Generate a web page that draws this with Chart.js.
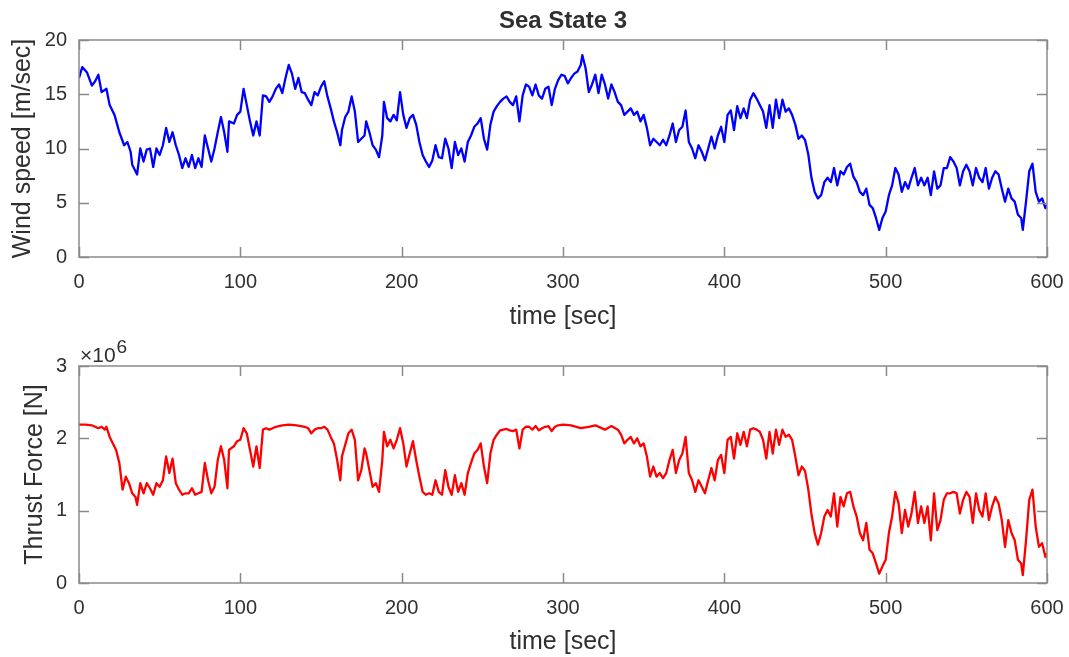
<!DOCTYPE html>
<html>
<head>
<meta charset="utf-8">
<script src="https://cdn.jsdelivr.net/npm/chart.js@4.4.1/dist/chart.umd.min.js"></script>
<style>
  html, body { margin: 0; padding: 0; background: #ffffff; }
  #wrap { position: relative; width: 1069px; height: 657px; background: #fff; }
  #c1 { position: absolute; left: 0; top: 0; }
  #c2 { position: absolute; left: 0; top: 332px; }
</style>
</head>
<body>
<div id="wrap">
  <canvas id="c1" width="1069" height="332"></canvas>
  <canvas id="c2" width="1069" height="325"></canvas>
</div>
<script>
// ---------------- Data ----------------
const chartTitle = 'Sea State 3';
const xAxisLabel = 'time [sec]';
const windAxisLabel = 'Wind speed [m/sec]';
const thrustAxisLabel = 'Thrust Force [N]';
const thrustExponent = '6';

const windTime = [0,2,5,8,10,12,14,17,19,22,25,28,30,32,33,35,36,38,40,42,44,46,48,50,52,54,56,58,60,62,64,66,68,70,72,74,76,78,80,82,84,86,88,90,92,93,96,98,100,102,104,106,108,110,112,114,116,118,120,122,124,126,128,130,132,134,136,138,140,142,144,146,148,150,152,154,156,158,160,162,163,165,167,169,171,173,175,177,178,180,182,184,186,188,189,191,193,195,197,199,201,203,205,207,209,211,213,215,217,219,221,223,225,227,229,231,233,235,237,239,241,243,245,247,249,251,253,255,257,259,261,263,265,267,269,271,273,275,277,279,281,283,285,287,289,291,293,295,297,299,301,303,305,307,309,311,312,314,316,318,320,322,324,326,328,330,332,334,336,338,340,342,344,346,348,350,352,354,356,358,360,362,364,366,368,370,372,374,376,378,380,382,384,386,388,390,392,394,396,398,400,402,404,406,408,410,412,414,416,418,420,422,424,426,428,430,432,434,436,438,440,442,444,446,448,450,452,454,456,458,460,462,464,466,468,470,472,474,476,478,480,482,484,486,488,490,492,494,496,498,500,502,504,506,508,510,512,514,516,518,520,522,524,526,528,530,532,534,536,538,540,542,544,546,548,550,552,554,556,558,560,562,564,566,568,570,572,574,576,578,580,582,584,585,587,589,591,593,595,597,599,600];
const windSpeed = [16.5,17.5,17.0,15.8,16.2,16.8,15.2,15.5,14.0,13.1,11.5,10.3,10.6,9.7,8.5,7.9,7.6,10.0,8.8,9.9,10.0,8.3,10.0,9.4,10.3,11.9,10.6,11.5,10.3,9.4,8.2,9.1,8.3,9.4,8.2,9.1,8.3,11.2,10.0,8.8,10.0,11.5,12.9,11.5,9.7,12.5,12.3,13.1,13.4,15.5,14.0,12.5,11.2,12.5,11.2,14.9,14.8,14.3,14.8,15.5,15.9,15.1,16.5,17.7,16.9,15.5,16.5,15.2,15.1,14.5,14.0,15.2,14.9,15.7,16.2,14.8,13.7,12.5,11.5,10.3,11.7,12.9,13.4,14.8,13.4,10.6,10.9,11.2,12.5,11.5,10.3,9.9,9.2,11.2,14.3,12.8,12.5,13.1,12.6,15.2,13.1,11.9,12.8,13.1,12.2,10.6,9.4,8.8,8.3,8.9,10.3,9.2,9.1,10.9,10.0,8.2,10.6,9.4,10.0,8.8,10.6,11.2,12.0,12.3,12.8,10.9,9.9,12.2,13.4,13.9,14.3,14.6,14.8,14.3,14.0,14.8,12.5,14.9,15.9,15.7,14.9,15.9,14.9,14.6,15.5,15.7,14.0,15.5,16.3,16.8,16.7,16.0,16.5,16.9,17.1,17.7,18.6,17.4,15.2,15.9,16.8,15.1,16.8,15.9,14.6,15.9,15.2,14.3,14.0,13.1,13.4,13.7,13.1,13.4,12.5,13.1,11.9,10.3,10.9,10.6,10.3,10.8,10.3,11.2,12.3,10.6,11.7,12.0,13.5,10.6,10.0,9.1,10.3,9.7,8.9,10.0,11.1,10.0,11.2,12.0,10.6,13.1,13.5,11.7,13.9,12.8,13.7,12.8,14.5,15.1,14.6,14.0,13.4,11.9,14.0,11.9,14.5,12.8,14.5,13.4,13.7,13.1,12.2,10.9,11.2,10.8,9.5,7.3,6.0,5.4,5.7,6.9,7.3,6.9,8.2,6.6,7.9,7.6,8.3,8.6,7.4,6.9,6.0,5.7,6.3,4.8,4.5,3.6,2.5,3.6,4.2,5.7,6.6,8.2,7.6,6.0,6.9,6.3,7.3,8.2,6.6,7.3,6.6,7.3,5.7,7.9,6.3,6.6,8.2,8.2,9.2,8.8,8.2,6.6,7.9,8.5,7.9,6.6,8.2,7.3,6.9,8.2,6.3,7.3,7.9,7.6,6.3,5.1,6.3,5.4,5.1,3.9,3.6,2.5,5.1,7.9,8.6,6.0,5.1,5.4,4.5,4.8];

const thrustTime = [0,4,8,10,12,14,16,17,19,21,23,25,27,29,31,33,35,36,38,40,42,44,46,48,50,52,54,56,58,60,62,64,66,68,70,72,74,76,78,80,82,84,86,88,90,92,93,96,98,100,102,104,106,108,110,112,114,116,118,120,122,124,126,130,135,140,142,144,146,148,150,152,154,156,158,160,162,163,165,167,169,171,173,175,177,178,180,182,184,186,188,189,191,193,195,197,199,201,203,205,207,209,211,213,215,217,219,221,223,225,227,229,231,233,235,237,239,241,243,245,247,249,251,253,255,257,259,261,263,265,267,269,271,273,275,277,279,281,283,285,287,289,291,293,295,297,300,305,311,316,320,326,330,334,336,338,340,342,344,346,348,350,352,354,356,358,360,362,364,366,368,370,372,374,376,378,380,382,384,386,388,390,392,394,396,398,400,402,404,406,408,410,412,414,416,418,420,422,424,426,428,430,432,434,436,438,440,442,444,446,448,450,452,454,456,458,460,462,464,466,468,470,472,474,476,478,480,482,484,486,488,490,492,494,496,498,500,502,504,506,508,510,512,514,516,518,520,522,524,526,528,530,532,534,536,538,540,542,544,546,548,550,552,554,556,558,560,562,564,566,568,570,572,574,576,578,580,582,584,585,587,589,591,593,595,597,599,600];
// thrust force in units of 10^6 N
const thrustForce = [2.19,2.19,2.18,2.16,2.14,2.16,2.12,2.16,2.02,1.93,1.84,1.66,1.29,1.47,1.38,1.24,1.19,1.08,1.38,1.24,1.38,1.31,1.22,1.38,1.33,1.42,1.75,1.52,1.72,1.38,1.29,1.22,1.24,1.24,1.31,1.22,1.24,1.26,1.66,1.42,1.24,1.33,1.70,1.89,1.70,1.31,1.84,1.89,1.96,1.98,2.14,2.07,1.84,1.61,1.89,1.59,2.12,2.14,2.12,2.14,2.16,2.17,2.18,2.19,2.18,2.16,2.14,2.07,2.12,2.14,2.14,2.16,2.12,2.02,1.93,1.70,1.42,1.75,1.91,2.07,2.12,1.98,1.42,1.56,1.86,1.79,1.56,1.33,1.38,1.26,1.70,2.09,1.89,1.98,1.86,1.98,2.14,1.93,1.61,1.79,1.96,1.70,1.47,1.26,1.22,1.24,1.22,1.42,1.26,1.22,1.56,1.33,1.22,1.49,1.26,1.38,1.22,1.52,1.66,1.79,1.84,1.93,1.61,1.38,1.79,1.98,2.05,2.11,2.12,2.13,2.11,2.10,2.12,1.86,2.12,2.16,2.16,2.12,2.17,2.11,2.14,2.16,2.17,2.10,2.16,2.18,2.19,2.18,2.14,2.16,2.18,2.12,2.17,2.12,2.05,1.93,1.98,2.02,1.93,2.00,1.89,1.93,1.75,1.47,1.61,1.47,1.52,1.45,1.52,1.70,1.84,1.52,1.70,1.79,2.02,1.52,1.42,1.26,1.42,1.33,1.24,1.42,1.59,1.42,1.70,1.77,1.52,1.98,2.02,1.72,2.07,1.91,2.09,1.89,2.12,2.14,2.12,2.09,1.98,1.72,2.09,1.79,2.12,1.91,2.12,2.02,2.05,1.98,1.75,1.49,1.61,1.55,1.30,0.95,0.69,0.53,0.69,0.92,1.01,0.92,1.24,0.78,1.19,1.06,1.24,1.26,1.06,0.92,0.69,0.59,0.83,0.46,0.41,0.27,0.13,0.23,0.32,0.69,0.92,1.26,1.10,0.69,1.01,0.78,0.96,1.26,0.83,1.06,0.83,1.06,0.59,1.24,0.73,0.87,1.15,1.24,1.24,1.26,1.24,0.96,1.15,1.26,1.19,0.83,1.24,1.01,0.92,1.24,0.87,1.06,1.19,1.10,0.87,0.50,0.87,0.69,0.59,0.32,0.27,0.11,0.59,1.15,1.29,0.78,0.50,0.55,0.36,0.41];

// ---------------- Styling ----------------
const FONT = "'Liberation Sans', Arial, Helvetica, sans-serif";
const TEXT = '#303030';
const AXIS = '#8a8a8a';

const boxPlugin = {
  id: 'matlabBox',
  afterDraw(chart, args, opts) {
    const { ctx, chartArea: a, scales } = chart;
    ctx.save();
    ctx.strokeStyle = AXIS;
    ctx.lineWidth = 1.5;
    ctx.strokeRect(a.left, a.top, a.right - a.left, a.bottom - a.top);
    const L = 10;
    ctx.beginPath();
    scales.x.ticks.forEach(t => {
      const px = Math.round(scales.x.getPixelForValue(t.value)) + 0.5;
      ctx.moveTo(px, a.bottom); ctx.lineTo(px, a.bottom - L);
      ctx.moveTo(px, a.top); ctx.lineTo(px, a.top + L);
    });
    scales.y.ticks.forEach(t => {
      const py = Math.round(scales.y.getPixelForValue(t.value)) + 0.5;
      ctx.moveTo(a.left, py); ctx.lineTo(a.left + L, py);
      ctx.moveTo(a.right, py); ctx.lineTo(a.right - L, py);
    });
    ctx.stroke();
    if (opts.exponent) {
      ctx.fillStyle = TEXT;
      ctx.textBaseline = 'alphabetic';
      ctx.textAlign = 'left';
      ctx.font = '21px ' + FONT;
      const base = a.top - 4;
      ctx.fillText('\u00d710', a.left + 1, base);
      const w = ctx.measureText('\u00d710').width;
      ctx.font = '19px ' + FONT;
      ctx.fillText(opts.exponent, a.left + 1 + w + 1, base - 9);
    }
    ctx.restore();
  }
};

function makeChart(canvas, cfg) {
  const pts = cfg.xs.map((x, i) => ({ x: x, y: cfg.ys[i] }));
  return new Chart(canvas, {
    type: 'line',
    data: { datasets: [{ data: pts, borderColor: cfg.color, borderWidth: 2.3, borderJoinStyle: 'round', pointRadius: 0, tension: 0, fill: false }] },
    options: {
      responsive: false,
      animation: false,
      devicePixelRatio: 1,
      layout: { padding: cfg.padding },
      plugins: {
        legend: { display: false },
        tooltip: { enabled: false },
        title: cfg.title ? { display: true, fullSize: false, text: cfg.title, color: TEXT, font: { family: FONT, size: 24, weight: 'bold' }, padding: { top: 7, bottom: 4.2 } } : { display: false },
        matlabBox: { exponent: cfg.exponent || null }
      },
      scales: {
        x: {
          type: 'linear', min: 0, max: 600,
          grid: { display: false, drawTicks: false },
          border: { display: false },
          ticks: { stepSize: 100, color: TEXT, font: { family: FONT, size: 20 }, padding: 13, maxRotation: 0 },
          title: { display: true, text: xAxisLabel, color: TEXT, font: { family: FONT, size: 25 }, padding: { top: cfg.xTitlePad, bottom: 0 } },
          afterFit(s) { s.height = cfg.xHeight; s.paddingLeft = 0; s.paddingRight = 0; }
        },
        y: {
          min: cfg.yMin, max: cfg.yMax,
          grid: { display: false, drawTicks: false },
          border: { display: false },
          ticks: { stepSize: cfg.yStep, color: TEXT, font: { family: FONT, size: 20 }, padding: 12 },
          title: { display: true, text: cfg.yLabel, color: TEXT, font: { family: FONT, size: 25 }, padding: { top: cfg.yTitlePad, bottom: 0 } },
          afterFit(s) { s.width = 79; s.paddingTop = 0; s.paddingBottom = 0; }
        }
      }
    },
    plugins: [boxPlugin]
  });
}

makeChart(document.getElementById('c1'), {
  xs: windTime, ys: windSpeed, color: '#0000ff',
  title: chartTitle, yLabel: windAxisLabel,
  yMin: 0, yMax: 20, yStep: 5,
  padding: { top: 0, right: 22, left: 0, bottom: 0 },
  xHeight: 75, xTitlePad: 0, yTitlePad: 8
});

makeChart(document.getElementById('c2'), {
  xs: thrustTime, ys: thrustForce, color: '#ff0000',
  yLabel: thrustAxisLabel, exponent: thrustExponent,
  yMin: 0, yMax: 3, yStep: 1,
  padding: { top: 34, right: 22, left: 0, bottom: 0 },
  xHeight: 74, xTitlePad: 2, yTitlePad: 20
});
</script>
</body>
</html>
